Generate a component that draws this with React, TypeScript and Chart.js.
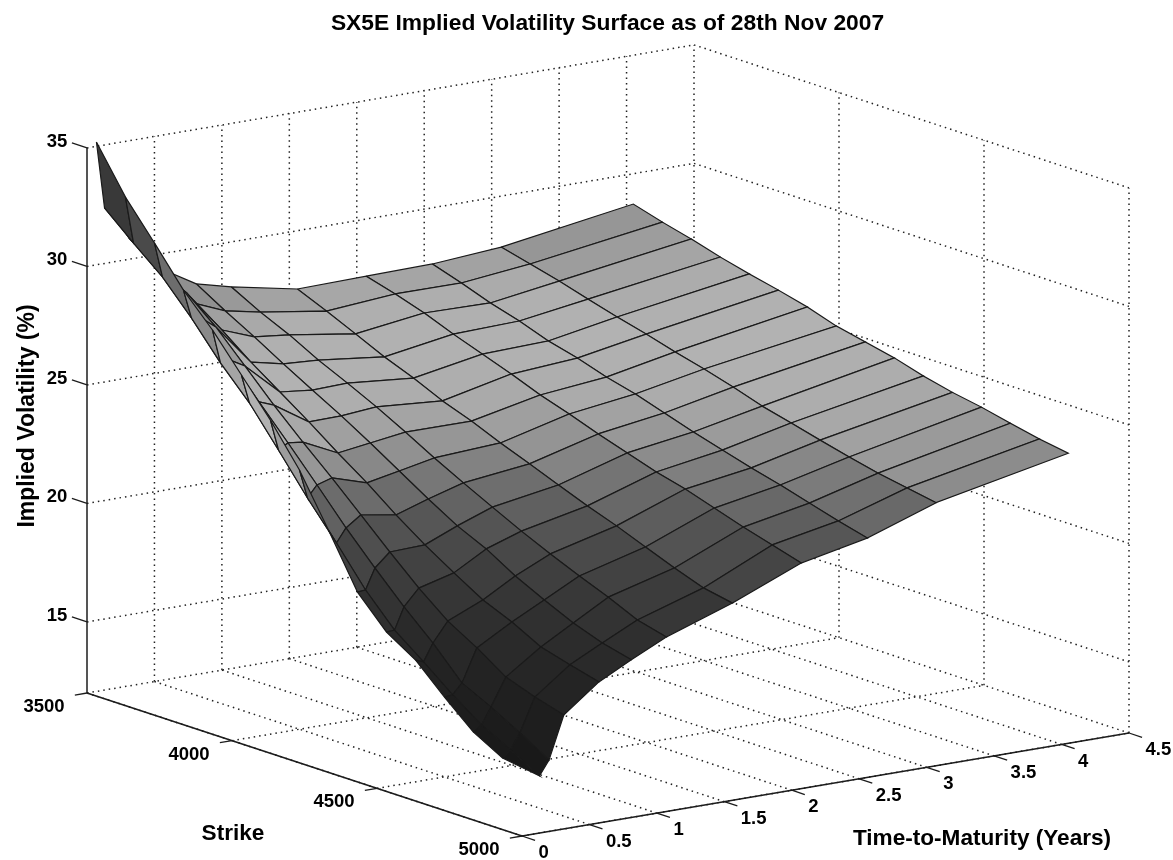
import React, { useEffect, useRef } from "react";
import { Chart, registerables } from "chart.js";

Chart.register(...registerables);

const titleText = "SX5E Implied Volatility Surface as of 28th Nov 2007";
const strikeAxisTitle = "Strike";
const maturityAxisTitle = "Time-to-Maturity (Years)";
const volAxisTitle = "Implied Volatility (%)";

const strikeTicks = [3500, 4000, 4500, 5000];
const maturityTicks = [0, 0.5, 1, 1.5, 2, 2.5, 3, 3.5, 4, 4.5];
const volTicks = [15, 20, 25, 30, 35];

const strikes = [3500, 3600, 3700, 3800, 3900, 4000, 4100, 4200, 4300, 4400, 4500, 4600, 4700, 4800, 4900, 5000];
const maturities = [0.07, 0.13, 0.2, 0.31, 0.57, 0.81, 1.07, 1.56, 2.07, 2.56, 3.07, 4.05];

const volT007 = [35.18, 33.26, 31.73, 30.14, 28.86, 27.36, 25.86, 24.16, 22.03, 19.81, 18.53, 17.75, 16.59, 15.51, 14.82, 14.63];
const volT013 = [32.34, 31.26, 30.23, 28.9, 27.41, 26.12, 24.54, 22.92, 21.42, 19.84, 18.55, 17.61, 16.62, 15.75, 15.1, 14.41];
const volT020 = [31.97, 30.9, 29.91, 28.84, 27.46, 26.1, 24.77, 23.4, 21.99, 20.7, 19.46, 18.34, 17.05, 16.44, 15.75, 15.01];
const volT031 = [30.9, 30.03, 29.38, 28.35, 27.11, 25.86, 24.7, 23.59, 22.43, 21.27, 20.15, 19.16, 18.43, 17.6, 17.16, 16.81];
const volT057 = [29.3, 28.31, 27.57, 26.62, 25.76, 24.9, 23.99, 23.13, 22.18, 21.32, 20.54, 19.8, 19.27, 18.62, 18.27, 17.95];
const volT081 = [28.48, 27.74, 27.05, 26.31, 25.61, 24.92, 24.18, 23.4, 22.62, 21.89, 21.32, 20.58, 19.97, 19.4, 18.96, 18.65];
const volT107 = [28.1, 27.44, 26.88, 26.22, 25.65, 25.05, 24.39, 23.7, 23.05, 22.43, 21.82, 21.26, 20.73, 20.24, 19.68, 19.36];
const volT156 = [27.54, 27.01, 26.45, 25.88, 25.39, 24.83, 24.38, 23.86, 23.38, 22.89, 22.41, 21.97, 21.48, 21.0, 20.56, 20.32];
const volT207 = [27.59, 27.24, 26.84, 26.35, 25.91, 25.47, 24.99, 24.59, 24.15, 23.75, 23.35, 23.03, 22.63, 22.23, 21.88, 21.52];
const volT256 = [27.63, 27.23, 26.79, 26.43, 25.99, 25.67, 25.27, 24.96, 24.56, 24.16, 23.8, 23.45, 23.13, 22.77, 22.42, 22.1];
const volT307 = [27.85, 27.54, 27.22, 26.86, 26.51, 26.19, 25.84, 25.52, 25.16, 24.76, 24.45, 24.13, 23.82, 23.54, 23.32, 23.1];
const volT405 = [28.72, 28.36, 28.05, 27.69, 27.38, 27.1, 26.79, 26.39, 26.12, 25.85, 25.49, 25.2, 24.98, 24.7, 24.44, 24.24];
const volGrid = [volT007, volT013, volT020, volT031, volT057, volT081, volT107, volT156, volT207, volT256, volT307, volT405];

// grey ramp of the surface: implied vol -> grey level
const rampVol = [14, 15, 17, 19, 20, 21, 22, 23, 24, 25, 26, 27, 28, 29, 30, 32, 35];
const rampGrey = [20, 25, 33, 45, 55, 68, 86, 112, 148, 172, 178, 175, 152, 135, 115, 65, 40];

const FONT = '"Liberation Sans", Arial, sans-serif';

// oblique view of the 3D box
const strikeMin = 3500, strikeMax = 5000, matMax = 4.5, volMin = 12, volMax = 35;
function proj(s: number, t: number, v: number) {
  const sf = (s - strikeMin) / (strikeMax - strikeMin);
  const tf = t / matMax;
  return { x: 87 + 607 * tf + 435 * sf, y: 693 - 103 * tf + 143 * sf - (v - volMin) * 23.7 };
}

function grey(v: number) {
  let g = rampGrey[0];
  for (let k = 0; k < rampVol.length - 1; k++) {
    if (v >= rampVol[k] && v <= rampVol[k + 1]) {
      g = rampGrey[k] + ((rampGrey[k + 1] - rampGrey[k]) * (v - rampVol[k])) / (rampVol[k + 1] - rampVol[k]);
    }
  }
  if (v > rampVol[rampVol.length - 1]) g = rampGrey[rampGrey.length - 1];
  const c = Math.round(g);
  return `rgb(${c},${c},${c})`;
}

function lineSet(points: { x: number; y: number }[], dotted: boolean, width = 1.3) {
  return {
    data: points,
    showLine: true,
    fill: false,
    tension: 0,
    pointRadius: 0,
    clip: false,
    borderColor: dotted ? "#222222" : "#1c1c1c",
    borderWidth: dotted ? 1.5 : width,
    borderDash: dotted ? [1.5, 4] : [],
  };
}

function buildDatasets() {
  const sets: any[] = [];
  // nearest cells come first: Chart.js paints the first dataset on top
  for (let i = strikes.length - 2; i >= 0; i--) {
    for (let j = 0; j < maturities.length - 1; j++) {
      const a = volGrid[j][i], b = volGrid[j + 1][i], c = volGrid[j + 1][i + 1], d = volGrid[j][i + 1];
      const pts = [
        proj(strikes[i], maturities[j], a),
        proj(strikes[i], maturities[j + 1], b),
        proj(strikes[i + 1], maturities[j + 1], c),
        proj(strikes[i + 1], maturities[j], d),
        proj(strikes[i], maturities[j], a),
      ];
      sets.push({
        data: pts,
        showLine: true,
        fill: "shape",
        backgroundColor: grey((a + b + c + d) / 4),
        borderColor: "#1a1a1a",
        borderWidth: 1.2,
        tension: 0,
        pointRadius: 0,
        clip: false,
      });
    }
  }
  // solid axes and tick marks
  sets.push(lineSet([proj(strikeMin, 0, volMin), proj(strikeMin, 0, volMax)], false, 1.5));
  sets.push(lineSet([proj(strikeMin, 0, volMin), proj(strikeMax, 0, volMin)], false, 1.7));
  sets.push(lineSet([proj(strikeMax, 0, volMin), proj(strikeMax, matMax, volMin)], false, 1.7));
  for (const v of volTicks) sets.push(lineSet([proj(strikeMin, 0, v), proj(strikeMin - 52, 0, v)], false, 1.3));
  for (const s of strikeTicks) sets.push(lineSet([proj(s, 0, volMin), proj(s, -0.09, volMin)], false, 1.3));
  for (const t of maturityTicks) sets.push(lineSet([proj(strikeMax, t, volMin), proj(strikeMax + 45, t, volMin)], false, 1.3));
  // dotted box grid
  for (const v of volTicks) {
    sets.push(lineSet([proj(strikeMin, 0, v), proj(strikeMin, matMax, v)], true));
    sets.push(lineSet([proj(strikeMin, matMax, v), proj(strikeMax, matMax, v)], true));
  }
  for (const t of maturityTicks) {
    if (t > 0) sets.push(lineSet([proj(strikeMin, t, volMin), proj(strikeMin, t, volMax)], true));
    sets.push(lineSet([proj(strikeMin, t, volMin), proj(strikeMax, t, volMin)], true));
  }
  for (const s of strikeTicks) {
    if (s > strikeMin) sets.push(lineSet([proj(s, matMax, volMin), proj(s, matMax, volMax)], true));
    sets.push(lineSet([proj(s, 0, volMin), proj(s, matMax, volMin)], true));
  }
  return sets;
}

const labelsPlugin = {
  id: "boxLabels",
  afterDraw(chart: any) {
    const { ctx, scales } = chart;
    const px = (p: { x: number; y: number }) => ({ x: scales.x.getPixelForValue(p.x), y: scales.y.getPixelForValue(p.y) });
    ctx.save();
    ctx.fillStyle = "#000";
    ctx.textBaseline = "middle";
    ctx.font = `bold 18.5px ${FONT}`;
    ctx.textAlign = "center";
    for (const v of volTicks) {
      const p = px(proj(strikeMin, 0, v));
      ctx.fillText(String(v), p.x - 30, p.y - 6);
    }
    for (const s of strikeTicks) {
      const p = px(proj(s, 0, volMin));
      ctx.fillText(String(s), p.x - 43, p.y + 14);
    }
    ctx.textAlign = "left";
    for (const t of maturityTicks) {
      const p = px(proj(strikeMax, t, volMin));
      ctx.fillText(String(t), p.x + 16.5, p.y + 17);
    }
    ctx.font = `bold 22.6px ${FONT}`;
    ctx.textAlign = "center";
    ctx.fillText(strikeAxisTitle, 233, 834);
    ctx.fillText(maturityAxisTitle, 982, 839);
    ctx.translate(28, 416);
    ctx.rotate(-Math.PI / 2);
    ctx.font = `bold 23px ${FONT}`;
    ctx.fillText(volAxisTitle, 0, 0);
    ctx.restore();
  },
};

export default function App() {
  const ref = useRef<HTMLCanvasElement | null>(null);
  useEffect(() => {
    document.body.style.margin = "0";
    document.body.style.background = "#fff";
    const chart = new Chart(ref.current as HTMLCanvasElement, {
      type: "scatter",
      data: { datasets: buildDatasets() },
      options: {
        animation: false,
        responsive: false,
        events: [],
        layout: { padding: { left: 42, top: 0, right: 0, bottom: 0 } },
        plugins: {
          legend: { display: false },
          tooltip: { enabled: false },
          title: {
            display: true,
            text: titleText,
            color: "#000",
            font: { family: FONT, size: 22.8, weight: "bold", lineHeight: "20px" },
            padding: { top: 14, bottom: 6 },
          },
        },
        scales: {
          x: { type: "linear", display: false, min: 42, max: 1173 },
          y: { type: "linear", display: false, min: 40, max: 860, reverse: true },
        },
      },
      plugins: [labelsPlugin],
    } as any);
    return () => chart.destroy();
  }, []);
  return <canvas ref={ref} width={1173} height={860} style={{ display: "block" }} />;
}
